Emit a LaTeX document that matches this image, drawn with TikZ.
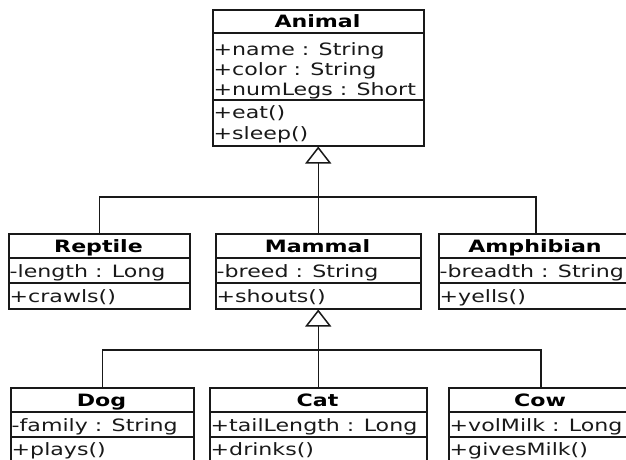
\documentclass[tikz,border=0pt]{standalone}
\usepackage{fontspec}
\setmainfont{DejaVu Sans}[FakeStretch=1.3]
\usetikzlibrary{arrows.meta,calc}
\begin{document}
\begin{tikzpicture}[x=1pt,y=-1pt,
  classbox/.style={draw=black!90, line width=1.5pt, fill=white, inner sep=0pt,
    anchor=north west},
  rule/.style={draw=black!90, line width=1.5pt},
  member/.style={anchor=base west, inner sep=0pt, text=black!90,
    font=\fontsize{17}{20}\selectfont},
  title/.style={anchor=base, inner sep=0pt, text=black,
    font=\fontsize{17}{20}\selectfont\bfseries},
  link/.style={draw=black!90, line width=1.5pt},
  gen/.style={link, -{Triangle[open,length=17pt,width=26pt,line width=1.5pt]}}
]
\useasboundingbox (0,0) rectangle (626,459);
\clip (0,0) rectangle (626,459);
\fill[white] (0,0) rectangle (626,459);

% ---------- Animal ----------
\node[classbox, minimum width=211pt, minimum height=136pt] (animal) at (212,9) {};
\draw[rule] ($(animal.north west)+(0,24)$) -- ($(animal.north east)+(0,24)$);
\draw[rule] ($(animal.north west)+(0,91)$) -- ($(animal.north east)+(0,91)$);
\node[title]  (animal-t)  at (317.5,27) {Animal};
\node[member] (animal-a1) at (213.5,55) {+name : String};
\node[member] (animal-a2) at (213.5,75) {+color : String};
\node[member] (animal-a3) at (213.5,95) {+numLegs : Short};
\node[member] (animal-m1) at (213.5,118) {+eat()};
\node[member] (animal-m2) at (213.5,139) {+sleep()};

% ---------- Reptile ----------
\node[classbox, minimum width=181pt, minimum height=75pt] (reptile) at (8,233) {};
\draw[rule] ($(reptile.north west)+(0,25)$) -- ($(reptile.north east)+(0,25)$);
\draw[rule] ($(reptile.north west)+(0,50)$) -- ($(reptile.north east)+(0,50)$);
\node[title]  (reptile-t)  at (98.5,252) {Reptile};
\node[member] (reptile-a1) at (9.5,277) {-length : Long};
\node[member] (reptile-m1) at (9.5,302) {+crawls()};

% ---------- Mammal ----------
\node[classbox, minimum width=205pt, minimum height=75pt] (mammal) at (215,233) {};
\draw[rule] ($(mammal.north west)+(0,25)$) -- ($(mammal.north east)+(0,25)$);
\draw[rule] ($(mammal.north west)+(0,50)$) -- ($(mammal.north east)+(0,50)$);
\node[title]  (mammal-t)  at (317.5,252) {Mammal};
\node[member] (mammal-a1) at (216.5,277) {-breed : String};
\node[member] (mammal-m1) at (216.5,302) {+shouts()};

% ---------- Amphibian ----------
\node[classbox, minimum width=194pt, minimum height=75pt] (amphibian) at (438,233) {};
\draw[rule] ($(amphibian.north west)+(0,25)$) -- ($(amphibian.north east)+(0,25)$);
\draw[rule] ($(amphibian.north west)+(0,50)$) -- ($(amphibian.north east)+(0,50)$);
\node[title]  (amphibian-t)  at (535,252) {Amphibian};
\node[member] (amphibian-a1) at (439.5,277) {-breadth : String};
\node[member] (amphibian-m1) at (439.5,302) {+yells()};

% ---------- Dog ----------
\node[classbox, minimum width=183pt, minimum height=85pt] (dog) at (10,387) {};
\draw[rule] ($(dog.north west)+(0,25)$) -- ($(dog.north east)+(0,25)$);
\draw[rule] ($(dog.north west)+(0,50)$) -- ($(dog.north east)+(0,50)$);
\node[title]  (dog-t)  at (101.5,406) {Dog};
\node[member] (dog-a1) at (11.5,431) {-family : String};
\node[member] (dog-m1) at (11.5,455) {+plays()};

% ---------- Cat ----------
\node[classbox, minimum width=217pt, minimum height=85pt] (cat) at (209,387) {};
\draw[rule] ($(cat.north west)+(0,25)$) -- ($(cat.north east)+(0,25)$);
\draw[rule] ($(cat.north west)+(0,50)$) -- ($(cat.north east)+(0,50)$);
\node[title]  (cat-t)  at (317.5,406) {Cat};
\node[member] (cat-a1) at (210.5,431) {+tailLength : Long};
\node[member] (cat-m1) at (210.5,455) {+drinks()};

% ---------- Cow ----------
\node[classbox, minimum width=184pt, minimum height=85pt] (cow) at (448,387) {};
\draw[rule] ($(cow.north west)+(0,25)$) -- ($(cow.north east)+(0,25)$);
\draw[rule] ($(cow.north west)+(0,50)$) -- ($(cow.north east)+(0,50)$);
\node[title]  (cow-t)  at (540,406) {Cow};
\node[member] (cow-a1) at (449.5,431) {+volMilk : Long};
\node[member] (cow-m1) at (449.5,455) {+givesMilk()};

% ---------- generalisation ----------
\coordinate (j1) at (317.5,197);
\draw[link] (reptile.north) |- (j1) -| (amphibian.north);
\draw[gen] (mammal.north) -- (animal.south);

\coordinate (j2) at (317.5,350);
\draw[link] (dog.north) |- (j2) -| (cow.north);
\draw[gen] (cat.north) -- (mammal.south);
\end{tikzpicture}
\end{document}
